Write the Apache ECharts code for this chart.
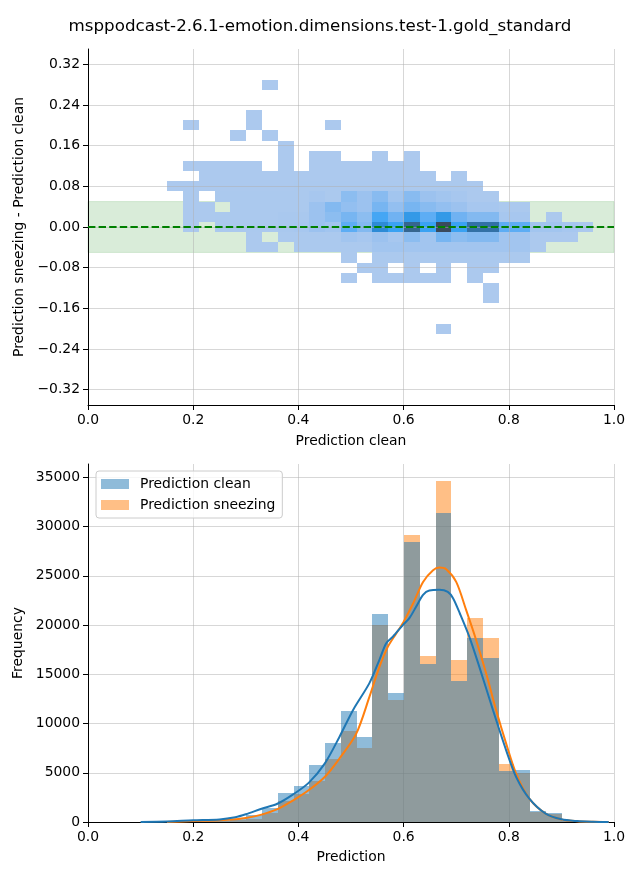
<!DOCTYPE html>
<html>
<head>
<meta charset="utf-8">
<script src="https://cdn.jsdelivr.net/npm/echarts@6/dist/echarts.min.js"></script>
<style>
html,body{margin:0;padding:0;background:#fff;}
#chart{width:640px;height:880px;}
</style>
</head>
<body>
<div id="chart"></div>
<script>
// ---------------- DATA ----------------
const titleText = 'msppodcast-2.6.1-emotion.dimensions.test-1.gold_standard';

// histogram / 2D-histogram bin edges along "Prediction" (27 bins)
const predEdges = [0.1507, 0.1807, 0.2107, 0.2407, 0.2707, 0.3007, 0.3307, 0.3607, 0.3907, 0.4207,
  0.4507, 0.4807, 0.5107, 0.5407, 0.5707, 0.6007, 0.6307, 0.6607, 0.6907, 0.7207,
  0.7507, 0.7807, 0.8107, 0.8407, 0.8707, 0.9007, 0.9307, 0.9607];

// 2D histogram bin edges along "Prediction sneezing - Prediction clean" (25 rows, top to bottom)
const diffEdges = [0.29, 0.27, 0.25, 0.23, 0.21, 0.19, 0.17, 0.15, 0.13, 0.11, 0.09, 0.07, 0.05,
  0.03, 0.01, -0.01, -0.03, -0.05, -0.07, -0.09, -0.11, -0.13, -0.15, -0.17, -0.19, -0.21];

// relative counts (estimated from colour), one row per diff bin (top row first), 27 columns
const heatCounts = [
  [0,0,0,0,0,0,2,0,0,0,0,0,0,0,0,0,0,0,0,0,0,0,0,0,0,0,0],
  [0,0,0,0,0,0,0,0,0,0,0,0,0,0,0,0,0,0,0,0,0,0,0,0,0,0,0],
  [0,0,0,0,0,0,0,0,0,0,0,0,0,0,0,0,0,0,0,0,0,0,0,0,0,0,0],
  [0,0,0,0,0,2,0,0,0,0,0,0,0,0,0,0,0,0,0,0,0,0,0,0,0,0,0],
  [0,2,0,0,0,2,0,0,0,0,2,0,0,0,0,0,0,0,0,0,0,0,0,0,0,0,0],
  [0,0,0,0,2,0,2,0,0,0,0,0,0,0,0,0,0,0,0,0,0,0,0,0,0,0,0],
  [0,0,0,0,0,0,0,2,0,0,0,0,0,0,0,0,0,0,0,0,0,0,0,0,0,0,0],
  [0,0,0,0,0,0,0,2,0,2,2,0,0,2,0,2,0,0,0,0,0,0,0,0,0,0,0],
  [0,2,2,2,2,2,0,2,0,2,2,2,2,2,2,2,0,0,0,0,0,0,0,0,0,0,0],
  [0,0,2,2,2,2,2,2,2,2,2,2,2,2,2,2,2,0,2,0,0,0,0,0,0,0,0],
  [2,2,2,2,2,2,2,2,3,3,3,3,3,3,3,3,3,3,3,2,0,0,0,0,0,0,0],
  [0,2,0,3,3,3,3,3,3,5,3,18,11,20,8,20,11,8,5,2,2,0,0,0,0,0,0],
  [0,2,2,0,3,3,3,3,3,11,22,15,11,27,15,27,20,15,11,5,5,3,3,0,0,0,0],
  [0,2,2,3,3,3,3,4,4,11,18,27,18,45,30,55,36,55,30,22,22,5,5,0,2,0,0],
  [0,2,0,3,3,3,3,4,5,11,8,36,22,62,50,80,50,100,50,75,75,36,36,8,8,5,2],
  [0,0,0,0,0,2,0,3,3,3,3,8,5,11,5,18,8,27,18,22,22,8,8,2,2,2,0],
  [0,0,0,0,0,2,2,0,3,3,3,3,3,8,8,8,8,8,8,8,8,8,8,2,0,0,0],
  [0,0,0,0,0,0,0,0,0,0,0,2,0,3,3,3,3,3,3,3,3,3,3,0,0,0,0],
  [0,0,0,0,0,0,0,0,0,0,0,0,2,2,0,2,0,2,0,2,2,0,0,0,0,0,0],
  [0,0,0,0,0,0,0,0,0,0,0,2,0,2,2,2,2,2,0,2,0,0,0,0,0,0,0],
  [0,0,0,0,0,0,0,0,0,0,0,0,0,0,0,0,0,0,0,0,2,0,0,0,0,0,0],
  [0,0,0,0,0,0,0,0,0,0,0,0,0,0,0,0,0,0,0,0,2,0,0,0,0,0,0],
  [0,0,0,0,0,0,0,0,0,0,0,0,0,0,0,0,0,0,0,0,0,0,0,0,0,0,0],
  [0,0,0,0,0,0,0,0,0,0,0,0,0,0,0,0,0,0,0,0,0,0,0,0,0,0,0],
  [0,0,0,0,0,0,0,0,0,0,0,0,0,0,0,0,0,2,0,0,0,0,0,0,0,0,0]
];

// tolerance band and zero line of the upper plot
const bandLow = -0.05;
const bandHigh = 0.05;
const zeroLineX = [0, 1];
const zeroLineY = 0;

// tick values
const predTicks = [0, 0.2, 0.4, 0.6, 0.8, 1.0];
const diffTicks = [-0.32, -0.24, -0.16, -0.08, 0, 0.08, 0.16, 0.24, 0.32];
const freqTicks = [0, 5000, 10000, 15000, 20000, 25000, 30000, 35000];

// histogram counts per bin
const histClean = [50, 150, 200, 250, 300, 750, 1400, 2920, 3640, 5770, 8020, 11270, 8610, 21080, 13060,
  28410, 16020, 31360, 14300, 18670, 16630, 5150, 5250, 1090, 900, 120, 40];
const histSneezing = [20, 60, 100, 150, 250, 300, 920, 2180, 2820, 4160, 6410, 9240, 7530, 20020, 12400,
  29120, 16840, 34610, 16430, 20700, 18660, 5860, 5010, 1050, 800, 100, 30];

// KDE curves (scaled to counts)
const kdeCleanX = [0.10, 0.15, 0.20, 0.25, 0.28, 0.30, 0.33, 0.36, 0.39, 0.42, 0.45, 0.478, 0.504, 0.535,
  0.554, 0.567, 0.58, 0.599, 0.611, 0.624, 0.637, 0.649, 0.668, 0.684, 0.694, 0.707, 0.725, 0.744,
  0.77, 0.795, 0.814, 0.839, 0.87, 0.90, 0.93, 0.96, 0.99];
const kdeCleanY = [0, 50, 170, 260, 480, 780, 1350, 1850, 2800, 4000, 5930, 8640, 11380, 14100,
  16470, 18160, 18840, 20020, 20700, 21880, 23070, 23510, 23570, 23370, 22730, 21170, 18800, 15750,
  11350, 7280, 4570, 2370, 850, 270, 90, 25, 0];
const kdeSneezingX = [0.15, 0.20, 0.25, 0.28, 0.30, 0.33, 0.36, 0.39, 0.42, 0.45, 0.478, 0.51, 0.535,
  0.554, 0.57, 0.586, 0.60, 0.618, 0.637, 0.656, 0.668, 0.681, 0.70, 0.719, 0.738, 0.757, 0.776,
  0.795, 0.814, 0.839, 0.87, 0.90, 0.93, 0.96, 0.99];
const kdeSneezingY = [0, 90, 180, 280, 400, 750, 1300, 2200, 3250, 4570, 6440, 8970, 12700,
  15750, 17780, 19140, 20320, 22180, 24380, 25570, 25840, 25670, 24380, 21510, 18460, 15070, 11350,
  7960, 4910, 2370, 850, 260, 80, 20, 0];

// ---------------- BUILD ----------------
const FONT = 'DejaVu Sans';
const GRID_LINE = 'rgba(176,176,176,0.5)';

const heatData = [];
heatCounts.forEach((row, r) => {
  row.forEach((c, k) => {
    if (c > 0) heatData.push([predEdges[k], predEdges[k + 1], diffEdges[r + 1], diffEdges[r], c]);
  });
});
const cleanData = histClean.map((c, k) => [predEdges[k], predEdges[k + 1], 0, c]);
const sneezeData = histSneezing.map((c, k) => [predEdges[k], predEdges[k + 1], 0, c]);

function rectItem(params, api) {
  const p0 = api.coord([api.value(0), api.value(3)]);
  const p1 = api.coord([api.value(1), api.value(2)]);
  const x = Math.round(p0[0]), y = Math.round(p0[1]);
  return {
    type: 'rect',
    shape: { x: x, y: y, width: Math.round(p1[0]) - x, height: Math.round(p1[1]) - y },
    style: { fill: api.visual('color') }
  };
}
function bandItem(params, api) {
  const p0 = api.coord([api.value(0), api.value(3)]);
  const p1 = api.coord([api.value(1), api.value(2)]);
  return {
    type: 'rect',
    shape: { x: p0[0], y: p0[1], width: p1[0] - p0[0], height: p1[1] - p0[1] },
    style: { fill: 'rgba(0,128,0,0.15)', stroke: 'rgba(0,128,0,0.12)', lineWidth: 1 }
  };
}

function baseAxis(extra) {
  return Object.assign({
    type: 'value',
    nameLocation: 'middle',
    nameTextStyle: { fontFamily: FONT, fontSize: 13.9, color: '#000' },
    axisLine: { show: true, onZero: false, lineStyle: { color: '#000', width: 1 } },
    axisTick: { show: true, inside: false, length: 5, lineStyle: { color: '#000', width: 1 } },
    axisLabel: { fontFamily: FONT, fontSize: 13.9, color: '#000', margin: 8 },
    splitLine: { show: true, lineStyle: { color: GRID_LINE, width: 1 } }
  }, extra);
}

const fmtDiff = v => v.toFixed(2).replace('-', '\u2212');

const option = {
  backgroundColor: '#ffffff',
  animation: false,
  title: {
    text: titleText, left: 'center', top: 18, padding: 0,
    textStyle: { fontFamily: FONT, fontSize: 16.7, fontWeight: 'normal', color: '#000' }
  },
  grid: [
    { left: 88, top: 49, width: 526, height: 356 },
    { left: 88, top: 464, width: 526, height: 358 }
  ],
  xAxis: [
    baseAxis({ gridIndex: 0, min: 0, max: 1, interval: 0.2, name: 'Prediction clean', nameGap: 29, z: 3,
      axisLabel: { fontFamily: FONT, fontSize: 13.9, color: '#000', margin: 8, formatter: v => v.toFixed(1) } }),
    baseAxis({ gridIndex: 1, min: 0, max: 1, interval: 0.2, name: 'Prediction', nameGap: 28,
      axisLabel: { fontFamily: FONT, fontSize: 13.9, color: '#000', margin: 8, formatter: v => v.toFixed(1) } })
  ],
  yAxis: [
    baseAxis({ gridIndex: 0, min: -0.35, max: 0.35, name: 'Prediction sneezing - Prediction clean', nameGap: 56, z: 3,
      axisTick: { show: true, inside: false, length: 5, lineStyle: { color: '#000', width: 1 }, customValues: diffTicks },
      axisLabel: { fontFamily: FONT, fontSize: 13.9, color: '#000', margin: 8, customValues: diffTicks, formatter: fmtDiff } }),
    baseAxis({ gridIndex: 1, min: 0, max: 36350, name: 'Frequency', nameGap: 56,
      axisTick: { show: true, inside: false, length: 5, lineStyle: { color: '#000', width: 1 }, customValues: freqTicks },
      axisLabel: { fontFamily: FONT, fontSize: 13.9, color: '#000', margin: 8, customValues: freqTicks, formatter: v => String(v) } })
  ],
  visualMap: {
    type: 'continuous', show: false, seriesIndex: 1, dimension: 4, min: 0, max: 100,
    inRange: { color: ['#b0cbee', '#9ec3ef', '#88bbf0', '#70b2f2', '#50aaf5', '#3aa2f2', '#2c8fdc', '#2f7bbd', '#35668f', '#385673', '#3b4a5c'] }
  },
  legend: {
    data: ['Prediction clean', 'Prediction sneezing'],
    orient: 'vertical', left: 96, top: 471,
    padding: [6, 7, 6, 5], itemGap: 7, itemWidth: 28, itemHeight: 10, icon: 'rect',
    backgroundColor: 'rgba(255,255,255,0.8)', borderColor: '#cccccc', borderWidth: 1, borderRadius: 3,
    textStyle: { fontFamily: FONT, fontSize: 13.9, color: '#000', lineHeight: 14, padding: [0, 0, 0, 6] }
  },
  series: [
    { type: 'custom', name: 'band', xAxisIndex: 0, yAxisIndex: 0, z: 1, silent: true,
      data: [[zeroLineX[0], zeroLineX[1], bandLow, bandHigh]], renderItem: bandItem },
    { type: 'custom', name: 'counts', xAxisIndex: 0, yAxisIndex: 0, z: 2, silent: true,
      data: heatData, renderItem: rectItem },
    { type: 'line', name: 'zero', xAxisIndex: 0, yAxisIndex: 0, z: 5, silent: true, symbol: 'none',
      data: zeroLineX.map(x => [x, zeroLineY]),
      lineStyle: { color: '#008000', width: 2, type: [7.4, 3.2] } },
    { type: 'custom', name: 'Prediction sneezing', xAxisIndex: 1, yAxisIndex: 1, z: 2, silent: true,
      itemStyle: { color: 'rgba(255,127,14,0.5)' }, data: sneezeData, renderItem: rectItem },
    { type: 'custom', name: 'Prediction clean', xAxisIndex: 1, yAxisIndex: 1, z: 2, silent: true,
      itemStyle: { color: 'rgba(31,119,180,0.5)' }, data: cleanData, renderItem: rectItem },
    { type: 'line', name: 'kde sneezing', xAxisIndex: 1, yAxisIndex: 1, z: 4, silent: true, symbol: 'none', smooth: 0.3,
      data: kdeSneezingX.map((x, i) => [x, kdeSneezingY[i]]), lineStyle: { color: '#ff7f0e', width: 2 } },
    { type: 'line', name: 'kde clean', xAxisIndex: 1, yAxisIndex: 1, z: 4, silent: true, symbol: 'none', smooth: 0.3,
      data: kdeCleanX.map((x, i) => [x, kdeCleanY[i]]), lineStyle: { color: '#1f77b4', width: 2 } }
  ]
};

const chart = echarts.init(document.getElementById('chart'), null, { renderer: 'canvas', width: 640, height: 880 });
chart.setOption(option);
</script>
</body>
</html>
